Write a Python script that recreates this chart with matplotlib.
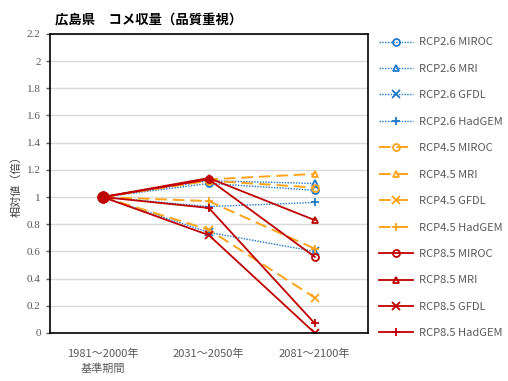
import matplotlib.pyplot as plt

plt.rcParams['font.family'] = ['Noto Sans CJK JP', 'DejaVu Sans']

periods = ['1981～2000年\n基準期間', '2031～2050年', '2081～2100年']

# relative yield (base period = 1.0)
rcp26_miroc = [1.0, 1.10, 1.05]
rcp26_mri = [1.0, 1.12, 1.10]
rcp26_gfdl = [1.0, 0.74, 0.60]
rcp26_hadgem = [1.0, 0.93, 0.96]
rcp45_miroc = [1.0, 1.12, 1.07]
rcp45_mri = [1.0, 1.13, 1.17]
rcp45_gfdl = [1.0, 0.76, 0.26]
rcp45_hadgem = [1.0, 0.97, 0.62]
rcp85_miroc = [1.0, 1.13, 0.56]
rcp85_mri = [1.0, 1.14, 0.83]
rcp85_gfdl = [1.0, 0.72, 0.00]
rcp85_hadgem = [1.0, 0.92, 0.07]

labels = ['RCP2.6 MIROC', 'RCP2.6 MRI', 'RCP2.6 GFDL', 'RCP2.6 HadGEM',
          'RCP4.5 MIROC', 'RCP4.5 MRI', 'RCP4.5 GFDL', 'RCP4.5 HadGEM',
          'RCP8.5 MIROC', 'RCP8.5 MRI', 'RCP8.5 GFDL', 'RCP8.5 HadGEM']
series = [rcp26_miroc, rcp26_mri, rcp26_gfdl, rcp26_hadgem,
          rcp45_miroc, rcp45_mri, rcp45_gfdl, rcp45_hadgem,
          rcp85_miroc, rcp85_mri, rcp85_gfdl, rcp85_hadgem]

blue = '#1f78c8'
orange = '#ffa31a'
red = '#c00000'
group_style = [(blue, (0, (1, 1)), 1.0), (orange, (0, (6, 3)), 1.4), (red, '-', 1.3)]
markers = ['o', '^', 'x', '+']

fig = plt.figure(figsize=(5.08, 3.81), dpi=100)
ax = fig.add_axes([0.098, 0.126, 0.626, 0.785])

x = list(range(len(periods)))
handles = []
for i, (vals, lab) in enumerate(zip(series, labels)):
    color, ls, lw = group_style[i // 4]
    m = markers[i % 4]
    ms = 5 if m in ('o', '^') else 5.5
    h, = ax.plot(x, vals, color=color, linestyle=ls, linewidth=lw,
                 marker=m, markersize=ms, markerfacecolor='none',
                 markeredgecolor=color, markeredgewidth=1.3,
                 markevery=[1, 2], label=lab)
    # base point drawn filled
    ax.plot(x[0], vals[0], marker='o', markersize=7.5, color=color,
            markeredgecolor=color, linestyle='none')
    handles.append(h)

ax.set_xlim(-0.5, 2.5)
ax.set_ylim(0, 2.2)
ax.set_yticks([i * 0.2 for i in range(12)])
ax.set_yticklabels(['0', '0.2', '0.4', '0.6', '0.8', '1', '1.2', '1.4', '1.6', '1.8', '2', '2.2'],
                   family='Liberation Serif')
ax.set_xticks(x)
ax.set_xticklabels(periods, linespacing=1.5)
ax.tick_params(axis='y', labelsize=8, colors='#595959', length=3, width=1)
ax.tick_params(axis='x', labelsize=8, colors='#595959', length=0, pad=11)
ax.grid(axis='y', color='#d9d9d9', linewidth=1)
ax.set_axisbelow(True)
for sp in ax.spines.values():
    sp.set_color('black')
    sp.set_linewidth(1.2)

ax.set_ylabel('相対値（倍）', fontsize=8, color='#404040', labelpad=4)
fig.text(0.108, 0.947, '広島県　コメ収量（品質重視）', fontsize=9.6, fontweight='bold',
         va='center', ha='left')

ax.legend(handles=handles, loc='upper left', bbox_to_anchor=(1.02, 1.003),
          frameon=False, fontsize=8, labelcolor='#595959', handlelength=3.1,
          handletextpad=0.55, labelspacing=1.48, borderaxespad=0)

fig.savefig('out.png', dpi=100)
